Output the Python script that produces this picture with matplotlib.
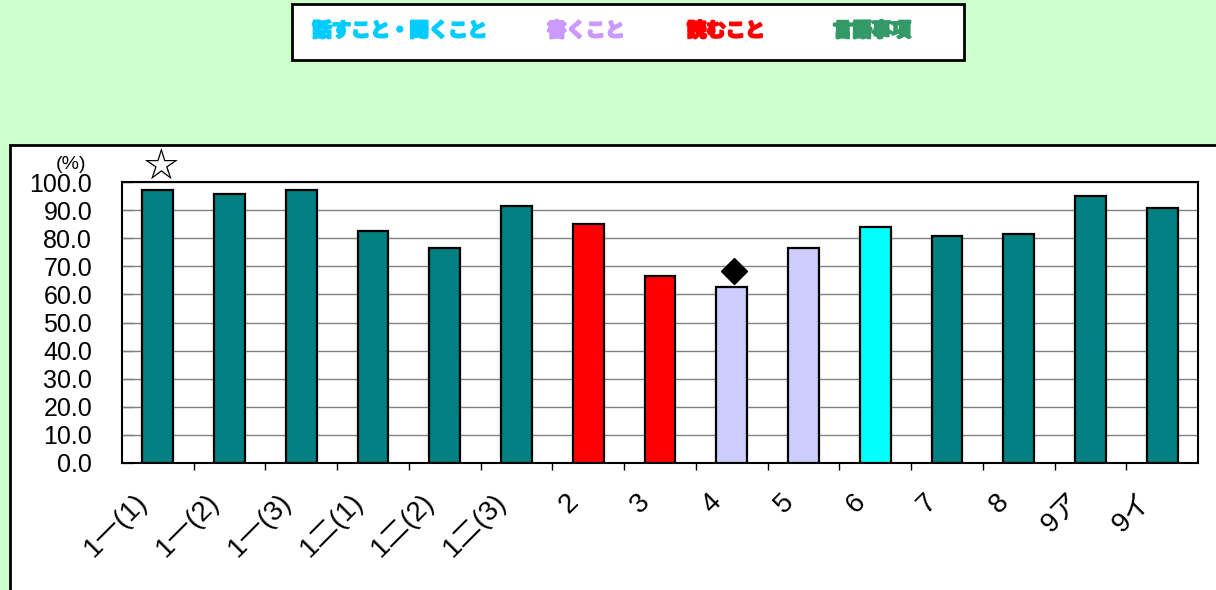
import matplotlib
matplotlib.use("Agg")
import matplotlib.pyplot as plt
import matplotlib.patheffects as pe
from matplotlib.patches import Rectangle
from matplotlib.transforms import ScaledTranslation

plt.rcParams['font.family'] = ['Liberation Sans', 'Noto Sans CJK JP', 'DejaVu Sans']

# data
categories = ['1一(1)', '1一(2)', '1一(3)', '1二(1)', '1二(2)', '1二(3)',
              '2', '3', '4', '5', '6', '7', '8', '9ア', '9イ']
values = [97.2, 95.7, 97.2, 82.6, 76.5, 91.5, 85.1, 66.5, 62.6, 76.5,
          84.0, 80.8, 81.5, 95.0, 90.7]
groups = ['lang', 'lang', 'lang', 'lang', 'lang', 'lang', 'read', 'read',
          'write', 'write', 'speak', 'lang', 'lang', 'lang', 'lang']
star_idx, star_val = 0, 105.3
diamond_idx, diamond_val = 8, 68.3

legend_labels = ['話すこと・聞くこと', '書くこと', '読むこと', '言語事項']
legend_colors = ['#00CCFF', '#CC99FF', '#FF0000', '#339966']
bar_colors = {'speak': '#00FFFF', 'write': '#CCCCFF', 'read': '#FF0000', 'lang': '#008080'}

W, H = 1216, 590
fig = plt.figure(figsize=(W / 100, H / 100), dpi=100, facecolor='#CCFFCC')

# white chart area with black frame
fig.patches.append(Rectangle((10 / W, -0.05), 1.0, 1 - 145 / H + 0.05,
                             transform=fig.transFigure, facecolor='white',
                             edgecolor='black', linewidth=2, zorder=-10))

# legend box
fig.patches.append(Rectangle((292 / W, 1 - 60 / H), 672 / W, 56 / H,
                             transform=fig.transFigure, facecolor='white',
                             edgecolor='black', linewidth=2, zorder=-10))
legend_x = [400, 586, 726, 872]
for lab, col, lx in zip(legend_labels, legend_colors, legend_x):
    fig.text(lx / W, 1 - 31 / H, lab, color=col, fontsize=14, fontweight='bold',
             ha='center', va='center', family=['Noto Sans CJK JP'],
             path_effects=[pe.withStroke(linewidth=1.6, foreground=col)])

ax = fig.add_axes([122 / W, 1 - 463 / H, 1076 / W, 281 / H])
ax.set_facecolor('white')
x = list(range(len(categories)))
ax.bar(x, values, width=0.43, color=[bar_colors[g] for g in groups],
       edgecolor='black', linewidth=1.6, zorder=3)

ax.set_xlim(-0.5, len(categories) - 0.5)
ax.set_ylim(0, 100)
ax.set_yticks(range(0, 101, 10))
ax.set_yticklabels([f'{v:.1f}' for v in range(0, 101, 10)], fontsize=18)
ax.yaxis.grid(True, color='#808080', linewidth=1, zorder=0)
ax.tick_params(axis='y', direction='in', length=8, pad=21.5, width=1, color='#808080')

ax.set_xticks(x)
ax.set_xticklabels(categories, rotation=45, ha='right', va='center',
                   rotation_mode='anchor', fontsize=20)
ax.tick_params(axis='x', length=0, pad=25)
shift = ScaledTranslation(-14 / 100, 0, fig.dpi_scale_trans)
for lbl in ax.get_xticklabels():
    lbl.set_transform(lbl.get_transform() + shift)
ax.set_xticks([i + 0.5 for i in x[:-1]], minor=True)
ax.tick_params(axis='x', which='minor', direction='out', length=5, width=1)

for s in ax.spines.values():
    s.set_linewidth(1.5)

ax.text(star_idx + 0.05, star_val, '☆', fontsize=25, ha='center', va='center',
        family=['Noto Sans CJK JP', 'DejaVu Sans'], clip_on=False)
ax.plot([diamond_idx + 0.03], [diamond_val], marker='D', color='black', markersize=13,
        linestyle='none', clip_on=False, zorder=4)

fig.text(71 / W, 1 - 165 / H, '(%)', fontsize=14, ha='center', va='center')

fig.savefig('out.png', dpi=100, facecolor=fig.get_facecolor())
